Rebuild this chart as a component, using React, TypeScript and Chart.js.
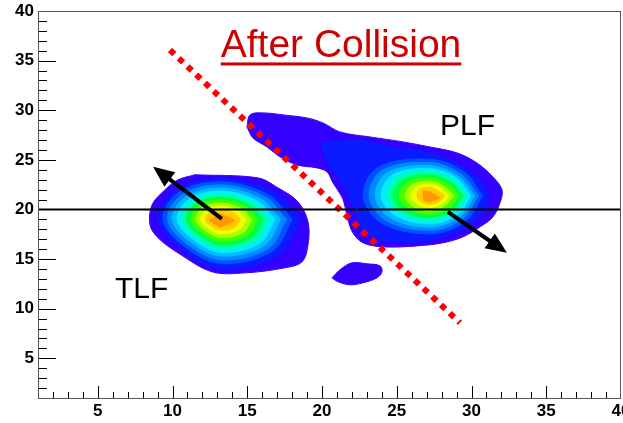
import React, { useEffect, useRef } from 'react';
import { Chart, registerables } from 'chart.js';

Chart.register(...registerables);

// ---------- axes ----------
const axisMin = 1;
const axisMax = 40;
const xTickLabels = [5, 10, 15, 20, 25, 30, 35, 40];
const yTickLabels = [5, 10, 15, 20, 25, 30, 35, 40];

// ---------- contour level colours (outer -> inner) ----------
const levelColors = [
  '#3300ff', '#0a1cff', '#0052ff', '#0088ff', '#00bbff', '#00eeff',
  '#00ffaa', '#00ff44', '#44ff00', '#aaff00', '#f0ff00', '#ffcc00', '#ff9900',
];

// ---------- TLF contours (outermost first) ----------
const tlfLevel0 = [[11.5,23.5],[15.72,23.18],[17.05,22.18],[18.39,20.77],[19.06,18.75],[19.06,16.43],[18.66,14.72],[17.52,14.12],[14.85,13.61],[12.64,13.72],[10.36,15.63],[9.03,17.14],[8.49,18.45],[8.63,20.46],[9.49,21.97],[10.36,22.98]];
const tlfLevel1 = [[18.6,19.0],[16.75,21.75],[13.25,23.1],[10.22,21.95],[9.04,19.0],[10.64,16.01],[13.25,14.0],[17.1,15.4]];
const tlfLevel2 = [[18.01,19.0],[16.39,21.5],[13.25,22.79],[10.44,21.73],[9.35,19.0],[10.83,16.24],[13.25,14.55],[16.68,15.8]];
const tlfLevel3 = [[17.63,19.0],[16.14,21.3],[13.25,22.48],[10.67,21.51],[9.67,19.0],[11.03,16.47],[13.25,14.92],[16.4,16.06]];
const tlfLevel4 = [[17.24,19.0],[15.88,21.09],[13.25,22.17],[10.9,21.28],[9.98,19.0],[11.22,16.71],[13.25,15.3],[16.12,16.34]];
const tlfLevel5 = [[16.86,19.0],[15.63,20.89],[13.25,21.86],[11.13,21.06],[10.3,19.0],[11.42,16.94],[13.25,15.67],[15.85,16.6]];
const tlfLevel6 = [[16.47,19.0],[15.38,20.69],[13.25,21.56],[11.35,20.84],[10.61,19.0],[11.61,17.17],[13.25,16.05],[15.57,16.88]];
const tlfLevel7 = [[16.08,19.0],[15.12,20.49],[13.25,21.25],[11.58,20.62],[10.93,19.0],[11.81,17.4],[13.25,16.42],[15.29,17.14]];
const tlfLevel8 = [[15.7,19.0],[14.87,20.28],[13.25,20.94],[11.8,20.4],[11.24,19.0],[12.0,17.64],[13.25,16.8],[15.01,17.42]];
const tlfLevel9 = [[15.31,19.0],[14.61,20.08],[13.25,20.63],[12.03,20.17],[11.56,19.0],[12.2,17.87],[13.25,17.17],[14.73,17.68]];
const tlfLevel10 = [[14.93,19.0],[14.36,19.87],[13.25,20.32],[12.26,19.95],[11.87,19.0],[12.39,18.1],[13.25,17.55],[14.46,17.96]];
const tlfLevel11 = [[14.54,19.0],[14.1,19.67],[13.25,20.01],[12.49,19.73],[12.19,19.0],[12.59,18.33],[13.25,17.92],[14.18,18.22]];
const tlfLevel12 = [[14.2,18.9],[13.2,19.55],[12.45,18.9],[13.2,18.2]];

// ---------- PLF contours (outermost first) ----------
const plfLevel0 = [[14.98,28.32],[15.18,29.53],[16.05,29.73],[17.39,29.53],[18.99,29.22],[20.06,28.72],[21.2,27.81],[23.21,27.31],[25.41,26.81],[27.22,26.3],[29.03,25.7],[30.36,24.69],[31.43,23.28],[32.04,21.97],[31.9,20.66],[31.43,19.25],[30.57,18.25],[29.43,17.24],[28.09,16.64],[26.35,16.33],[24.08,16.23],[22.74,16.64],[22.07,17.64],[21.74,18.95],[21.54,20.26],[21.33,21.27],[20.73,22.68],[20.33,23.79],[19.66,24.19],[18.32,24.49],[17.19,25.3],[16.32,26.3],[15.38,27.21]];
const plfLevel1 = [[20.06,26.81],[22.34,27.01],[24.55,26.3],[26.35,26.0],[28.09,25.3],[29.43,24.29],[30.57,22.98],[31.1,21.27],[30.9,19.96],[30.1,18.65],[29.03,17.74],[27.22,16.94],[25.01,16.74],[23.41,17.14],[22.74,17.95],[22.34,19.25],[21.87,20.97],[21.2,22.98],[20.33,24.69],[20.06,26.0]];
const plfLevel2 = [[30.75,21.35],[29.53,23.76],[27.25,25.05],[23.74,24.24],[22.75,21.35],[24.01,18.61],[27.25,17.55],[29.6,18.8]];
const plfLevel3 = [[30.45,21.35],[29.33,23.53],[27.25,24.72],[24.05,23.98],[23.15,21.35],[24.3,18.88],[27.25,17.9],[29.4,19.05]];
const plfLevel4 = [[30.2,21.35],[29.17,23.3],[27.25,24.4],[24.38,23.72],[23.55,21.35],[24.6,19.12],[27.25,18.22],[29.25,19.3]];
const plfLevel5 = [[29.95,21.35],[29.0,23.15],[27.25,24.1],[24.72,23.5],[23.95,21.35],[24.92,19.38],[27.25,18.55],[29.1,19.5]];
const plfLevel6 = [[29.7,21.35],[28.85,22.95],[27.25,23.8],[25.06,23.26],[24.35,21.35],[25.22,19.6],[27.25,18.87],[28.9,19.7]];
const plfLevel7 = [[29.45,21.35],[28.65,22.72],[27.25,23.48],[25.4,23.0],[24.75,21.35],[25.52,19.82],[27.25,19.2],[28.7,19.95]];
const plfLevel8 = [[29.15,21.35],[28.45,22.5],[27.25,23.16],[25.72,22.76],[25.15,21.35],[25.84,20.04],[27.25,19.53],[28.5,20.15]];
const plfLevel9 = [[28.8,21.35],[28.2,22.27],[27.25,22.85],[26.02,22.5],[25.55,21.35],[26.12,20.28],[27.25,19.86],[28.25,20.4]];
const plfLevel10 = [[28.5,21.35],[28.0,22.07],[27.25,22.53],[26.3,22.27],[25.95,21.35],[26.4,20.52],[27.25,20.19],[28.05,20.6]];
const plfLevel11 = [[28.2,21.35],[27.8,21.9],[27.25,22.22],[26.56,22.05],[26.35,21.35],[26.62,20.76],[27.25,20.52],[27.85,20.8]];
const plfLevel12 = [[26.75,21.87],[27.22,21.77],[27.89,21.17],[27.22,20.77],[26.82,20.87]];

// small isolated island below the PLF tail
const smallIsland = [[20.67,13.11],[21.2,13.92],[22.0,14.62],[23.01,14.52],[23.88,14.32],[24.01,13.72],[23.68,13.11],[22.74,12.61],[21.87,12.41],[21.07,12.71]];

// ---------- lines ----------
const separationLine = [[9.83,36.07],[29.23,8.58]];
const referenceLine = [[1,20],[40,20]];
const tlfArrow = [[13.3,19.05],[8.7,24.3]];
const plfArrow = [[28.42,19.76],[32.37,15.63]];

// ---------- text ----------
const titleText = 'After Collision';
const textLabels = [
  { text: titleText, x: 21.27, y: 35.32, size: 39, color: '#cc0000', align: 'center', underline: true },
  { text: 'PLF', x: 27.89, y: 27.51, size: 30, color: '#000000', align: 'left', underline: false },
  { text: 'TLF', x: 6.15, y: 11.1, size: 30, color: '#000000', align: 'left', underline: false },
];

const FONT = '"Liberation Sans", Arial, Helvetica, sans-serif';

const tlfLevels = [tlfLevel0, tlfLevel1, tlfLevel2, tlfLevel3, tlfLevel4, tlfLevel5, tlfLevel6, tlfLevel7, tlfLevel8, tlfLevel9, tlfLevel10, tlfLevel11, tlfLevel12];
const plfLevels = [plfLevel0, plfLevel1, plfLevel2, plfLevel3, plfLevel4, plfLevel5, plfLevel6, plfLevel7, plfLevel8, plfLevel9, plfLevel10, plfLevel11, plfLevel12];

const toPts = (a: number[][]) => a.map(([x, y]) => ({ x, y }));
const closed = (a: number[][]) => toPts([...a, a[0]]);

const rootFrame = {
  id: 'rootFrame',
  afterDatasetsDraw(chart: any) {
    const { ctx, chartArea: ca, scales } = chart;
    const xs = scales.x, ys = scales.y;
    ctx.save();
    ctx.strokeStyle = '#000';
    ctx.lineWidth = 1;
    ctx.beginPath();
    for (let v = 2; v < axisMax; v++) {
      const major = v % 5 === 0;
      const px = Math.round(xs.getPixelForValue(v)) + 0.5;
      ctx.moveTo(px, ca.bottom);
      ctx.lineTo(px, ca.bottom - (major ? 12 : 6));
      const py = Math.round(ys.getPixelForValue(v)) + 0.5;
      ctx.moveTo(ca.left, py);
      ctx.lineTo(ca.left + (major ? 18 : 9), py);
    }
    ctx.stroke();
    ctx.strokeStyle = '#555';
    ctx.strokeRect(Math.round(ca.left) + 0.5, Math.round(ca.top) + 0.5, Math.round(ca.right - ca.left) - 1, Math.round(ca.bottom - ca.top));
    ctx.restore();
  },
};

const arrowHeads = {
  id: 'arrowHeads',
  afterDatasetsDraw(chart: any) {
    const ctx = chart.ctx;
    chart.data.datasets.forEach((ds: any, i: number) => {
      if (!ds.arrowHead) return;
      const pts = chart.getDatasetMeta(i).data;
      const a = pts[0], b = pts[pts.length - 1];
      const ang = Math.atan2(b.y - a.y, b.x - a.x);
      const L = 21, W = 9;
      const c = Math.cos(ang), s = Math.sin(ang);
      ctx.save();
      ctx.strokeStyle = '#000';
      ctx.fillStyle = '#000';
      ctx.lineWidth = 4;
      ctx.beginPath();
      ctx.moveTo(a.x, a.y);
      ctx.lineTo(b.x - c * L * 0.8, b.y - s * L * 0.8);
      ctx.stroke();
      ctx.beginPath();
      ctx.moveTo(b.x, b.y);
      ctx.lineTo(b.x - L * c + W * s, b.y - L * s - W * c);
      ctx.lineTo(b.x - L * c - W * s, b.y - L * s + W * c);
      ctx.closePath();
      ctx.fill();
      ctx.restore();
    });
  },
};

const textPlugin = {
  id: 'textLabels',
  afterDatasetsDraw(chart: any) {
    const { ctx, scales } = chart;
    ctx.save();
    textLabels.forEach((t) => {
      ctx.font = `${t.size}px ${FONT}`;
      ctx.fillStyle = t.color;
      ctx.textBaseline = 'alphabetic';
      ctx.textAlign = t.align;
      const px = scales.x.getPixelForValue(t.x);
      const py = scales.y.getPixelForValue(t.y);
      ctx.fillText(t.text, px, py);
      if (t.underline) {
        const w = ctx.measureText(t.text).width;
        const left = t.align === 'center' ? px - w / 2 : px;
        ctx.fillRect(left, py + 5, w, 3);
      }
    });
    ctx.restore();
  },
};

export default function App() {
  const ref = useRef<HTMLCanvasElement>(null);

  useEffect(() => {
    document.body.style.margin = '0';
    const canvas = ref.current;
    if (!canvas) return;

    const contour = (poly: number[][], level: number) => ({
      type: 'line',
      data: closed(poly),
      fill: 'shape',
      backgroundColor: levelColors[level],
      borderColor: levelColors[level],
      borderWidth: 1,
      pointRadius: 0,
      tension: level === 12 ? 0 : 0.35,
      order: 100 - level,
    });

    const datasets: any[] = [];
    tlfLevels.forEach((p, i) => datasets.push(contour(p, i)));
    plfLevels.forEach((p, i) => datasets.push(contour(p, i)));
    datasets.push(contour(smallIsland, 0));
    datasets.push({
      type: 'line', data: toPts(separationLine), fill: false, borderColor: '#ff0000',
      borderWidth: 6, borderDash: [6, 6], borderCapStyle: 'butt', pointRadius: 0, order: 2,
    });
    datasets.push({
      type: 'line', data: toPts(referenceLine), fill: false, borderColor: '#000000',
      borderWidth: 2, pointRadius: 0, order: 1,
    });
    datasets.push({ type: 'line', data: toPts(tlfArrow), showLine: false, pointRadius: 0, arrowHead: true, order: 0 });
    datasets.push({ type: 'line', data: toPts(plfArrow), showLine: false, pointRadius: 0, arrowHead: true, order: 0 });

    const tickFont = { family: FONT, size: 17, weight: 'bold' as const };

    const chart = new Chart(canvas, {
      type: 'line',
      data: { datasets },
      options: {
        animation: false,
        responsive: false,
        maintainAspectRatio: false,
        layout: { padding: { top: 11, right: 2, left: 0, bottom: 0 } },
        plugins: { legend: { display: false }, tooltip: { enabled: false }, title: { display: false } },
        scales: {
          x: {
            type: 'linear', min: axisMin, max: axisMax,
            grid: { display: false, drawTicks: false }, border: { display: false },
            ticks: { font: tickFont, color: '#000', padding: 3, maxRotation: 0, autoSkip: false },
            afterBuildTicks: (s: any) => { s.ticks = xTickLabels.map((v) => ({ value: v })); },
            afterFit: (s: any) => { s.height = 25; s.paddingLeft = 0; s.paddingRight = 0; },
          },
          y: {
            type: 'linear', min: axisMin, max: axisMax,
            grid: { display: false, drawTicks: false }, border: { display: false },
            ticks: { font: tickFont, color: '#000', padding: 4, autoSkip: false },
            afterBuildTicks: (s: any) => { s.ticks = yTickLabels.map((v) => ({ value: v })); },
            afterFit: (s: any) => { s.width = 38; s.paddingTop = 0; s.paddingBottom = 0; },
          },
        },
      } as any,
      plugins: [rootFrame, arrowHeads, textPlugin],
    } as any);

    return () => chart.destroy();
  }, []);

  return <canvas ref={ref} width={623} height={423} style={{ display: 'block' }} />;
}
